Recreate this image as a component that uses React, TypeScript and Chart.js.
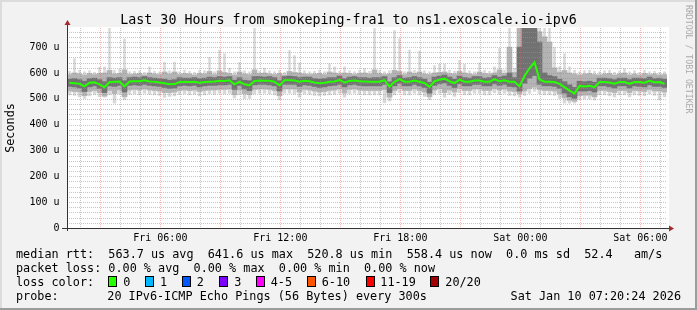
import { useEffect, useRef } from 'react';
import { Chart, registerables } from 'chart.js';

Chart.register(...registerables);

// ---- time axis ----
const STEP_HOURS = 0.25; // one sample every 15 min
const START_CLOCK = 1 + 20 / 60; // Fri 01:20
const RANGE_HOURS = 30;
const Y_MAX = 774; // micro-seconds

const xTickLabels = ['Fri 06:00', 'Fri 12:00', 'Fri 18:00', 'Sat 00:00', 'Sat 06:00'];
const yTickLabels = ['0', '100 u', '200 u', '300 u', '400 u', '500 u', '600 u', '700 u'];

// ---- median rtt (us) ----
const median = [
  562, 560, 558, 548, 562, 564, 556, 545, 565, 566,
  567, 548, 567, 568, 568, 572, 567, 566, 563, 560,
  556, 557, 565, 566, 565, 566, 562, 565, 566, 567,
  570, 569, 572, 556, 566, 556, 552, 569, 571, 570,
  570, 566, 552, 572, 572, 571, 566, 570, 568, 563,
  560, 562, 566, 567, 573, 563, 569, 571, 568, 567,
  566, 566, 566, 572, 547, 566, 576, 566, 566, 571,
  566, 561, 546, 568, 574, 578, 568, 561, 574, 566,
  566, 571, 571, 566, 566, 575, 568, 572, 566, 566,
  548, 588, 618, 641, 575, 566, 566, 565, 558, 545,
  532, 521, 550, 548, 550, 545, 565, 565, 563, 558,
  565, 565, 558, 565, 565, 562, 570, 564, 565, 558,
];

// ---- smoke: slowest / fastest ping ----
const pingMax = [
  608, 657, 612, 606, 610, 604, 623, 625, 774, 612,
  615, 733, 606, 608, 610, 604, 625, 608, 606, 643,
  610, 643, 606, 612, 608, 604, 612, 610, 662, 606,
  690, 676, 620, 606, 642, 610, 606, 774, 608, 620,
  610, 606, 612, 604, 688, 668, 640, 610, 606, 608,
  612, 606, 637, 625, 608, 625, 610, 606, 612, 618,
  608, 774, 612, 606, 610, 765, 734, 606, 690, 612,
  686, 610, 606, 630, 636, 636, 612, 608, 650, 635,
  610, 606, 640, 612, 608, 625, 696, 612, 774, 620,
  774, 774, 774, 774, 774, 774, 774, 700, 626, 676,
  625, 612, 606, 610, 612, 608, 606, 610, 612, 604,
  608, 618, 606, 610, 604, 612, 606, 608, 604, 606,
];
const pingMin = [
  514, 512, 506, 500, 510, 516, 507, 505, 514, 482,
  518, 495, 516, 518, 514, 520, 516, 514, 512, 504,
  508, 510, 516, 518, 514, 516, 510, 514, 518, 516,
  520, 518, 520, 502, 516, 499, 500, 518, 520, 520,
  518, 514, 495, 520, 520, 518, 505, 518, 516, 512,
  510, 512, 514, 516, 520, 505, 518, 520, 516, 514,
  514, 514, 514, 483, 490, 514, 522, 514, 514, 520,
  514, 508, 495, 516, 520, 505, 516, 508, 522, 514,
  514, 520, 520, 514, 514, 522, 516, 520, 512, 510,
  505, 512, 520, 528, 518, 514, 514, 512, 500, 482,
  482, 482, 495, 498, 498, 494, 514, 514, 510, 506,
  514, 514, 506, 514, 512, 510, 518, 512, 495, 506,
];

// ---- smoke: middle band ----
const midHigh = [
  594, 600, 596, 592, 598, 594, 598, 600, 610, 596,
  598, 612, 594, 596, 598, 592, 600, 596, 594, 604,
  596, 604, 594, 598, 596, 592, 598, 596, 606, 594,
  608, 602, 598, 592, 604, 596, 594, 612, 598, 600,
  596, 594, 598, 592, 606, 602, 600, 596, 594, 596,
  598, 594, 604, 600, 596, 600, 598, 594, 598, 600,
  596, 612, 598, 594, 596, 610, 606, 594, 604, 598,
  604, 596, 594, 600, 602, 604, 598, 596, 606, 600,
  596, 594, 604, 598, 596, 600, 612, 598, 700, 602,
  774, 774, 774, 774, 760, 740, 720, 620, 604, 610,
  600, 596, 592, 596, 598, 594, 592, 596, 598, 592,
  596, 600, 592, 596, 592, 598, 594, 596, 592, 594,
];
const midLow = [
  530, 528, 526, 512, 528, 532, 524, 510, 532, 520,
  534, 508, 534, 536, 534, 538, 534, 532, 530, 524,
  524, 526, 532, 534, 532, 534, 528, 532, 534, 534,
  536, 536, 538, 516, 534, 520, 516, 536, 538, 538,
  536, 532, 512, 538, 538, 538, 526, 536, 534, 530,
  526, 528, 532, 534, 538, 522, 536, 538, 534, 532,
  532, 532, 532, 536, 506, 532, 540, 532, 532, 538,
  532, 526, 508, 534, 540, 524, 534, 526, 540, 532,
  532, 538, 538, 532, 532, 540, 534, 538, 530, 528,
  520, 530, 540, 545, 536, 532, 532, 530, 520, 504,
  494, 490, 512, 514, 514, 508, 532, 532, 528, 524,
  532, 532, 524, 532, 530, 528, 536, 530, 530, 526,
];

// ---- smoke: dark core ----
const coreHigh = [
  576, 578, 574, 568, 578, 580, 574, 566, 582, 580,
  582, 570, 582, 584, 582, 586, 582, 580, 578, 576,
  572, 574, 582, 580, 580, 582, 578, 580, 584, 582,
  586, 584, 586, 572, 582, 572, 570, 586, 586, 584,
  586, 582, 570, 586, 588, 586, 582, 584, 584, 578,
  576, 578, 582, 582, 588, 578, 584, 586, 582, 582,
  580, 582, 582, 586, 566, 582, 590, 580, 582, 586,
  582, 576, 564, 584, 588, 592, 584, 576, 588, 582,
  580, 586, 586, 580, 582, 590, 584, 588, 600, 582,
  700, 774, 774, 774, 720, 600, 590, 586, 576, 566,
  554, 544, 568, 566, 568, 564, 580, 580, 578, 574,
  580, 580, 574, 580, 580, 578, 584, 578, 580, 576,
];
const coreLow = [
  548, 546, 542, 528, 546, 550, 540, 524, 550, 548,
  552, 526, 552, 554, 552, 556, 552, 550, 548, 544,
  540, 542, 550, 552, 550, 552, 546, 550, 552, 552,
  554, 554, 556, 536, 552, 538, 532, 554, 556, 556,
  554, 550, 530, 556, 556, 556, 548, 554, 552, 548,
  544, 546, 550, 552, 556, 546, 554, 556, 552, 550,
  550, 550, 550, 556, 524, 550, 560, 550, 550, 556,
  550, 544, 522, 552, 558, 562, 552, 544, 558, 550,
  550, 556, 556, 550, 550, 558, 552, 556, 548, 546,
  530, 560, 580, 590, 556, 550, 550, 548, 540, 522,
  508, 502, 530, 530, 532, 526, 550, 550, 546, 542,
  550, 550, 542, 550, 548, 546, 554, 548, 548, 544,
];

// ---- texts ----
const TITLE = 'Last 30 Hours from smokeping-fra1 to ns1.exoscale.io-ipv6';
const Y_TITLE = 'Seconds';
const WATERMARK = 'RRDTOOL / TOBI OETIKER';
const LEGEND_RTT = 'median rtt:  563.7 us avg  641.6 us max  520.8 us min  558.4 us now  0.0 ms sd  52.4   am/s';
const LEGEND_LOSS = 'packet loss: 0.00 % avg  0.00 % max  0.00 % min  0.00 % now';
const LEGEND_COLOR = 'loss color:';
const lossLabels = ['0', '1', '2', '3', '4-5', '6-10', '11-19', '20/20'];
const lossColors = ['#26ff00', '#00b8ff', '#0059ff', '#7e00ff', '#ff00ff', '#ff5500', '#ff0000', '#a10000'];
const lossBoxX = [108.5, 145.5, 182.5, 219.5, 256.5, 307.5, 366.5, 430.5];
const lossLabelX = [123.3, 160, 196.7, 234.3, 270.7, 321.7, 380.3, 445.3];
const PROBE_LABEL = 'probe:';
const PROBE_TEXT = '20 IPv6-ICMP Echo Pings (56 Bytes) every 300s';
const DATE_TEXT = 'Sat Jan 10 07:20:24 2026';

const MONO = "'DejaVu Sans Mono', monospace";
const MAJOR_GRID = 'rgba(230, 90, 90, 0.45)';
const MINOR_GRID = 'rgba(150, 150, 150, 0.55)';

export default function App() {
  const ref = useRef<HTMLCanvasElement>(null);

  useEffect(() => {
    const canvas = ref.current;
    if (!canvas) return;

    const xOf = (i: number) => (i + 0.5) * STEP_HOURS;
    const band = (lo: number[], hi: number[]) => lo.map((v, i) => ({ x: xOf(i), y: [v, hi[i]] }));

    const gridHours: number[] = [];
    for (let h = Math.ceil(START_CLOCK); h < START_CLOCK + RANGE_HOURS; h++) gridHours.push(h - START_CLOCK);

    const drawGrid = (chart: any) => {
      const { ctx, chartArea: a, scales } = chart;
      const xs = scales.x;
      const ys = scales.y;
      ctx.save();
      ctx.beginPath();
      ctx.rect(a.left, a.top, a.right - a.left, a.bottom - a.top);
      ctx.clip();
      ctx.lineWidth = 1;
      ctx.setLineDash([1, 1]);
      ys.ticks.forEach((t: any) => {
        const v = Math.round(t.value);
        if (v === 0) return;
        const py = Math.round(ys.getPixelForValue(t.value)) + 0.5;
        ctx.strokeStyle = v % 100 === 0 ? MAJOR_GRID : MINOR_GRID;
        ctx.beginPath();
        ctx.moveTo(a.left, py);
        ctx.lineTo(a.right, py);
        ctx.stroke();
      });
      xs.ticks.forEach((t: any) => {
        const clock = Math.round(t.value + START_CLOCK);
        const px = Math.round(xs.getPixelForValue(t.value)) + 0.5;
        ctx.strokeStyle = clock % 3 === 0 ? MAJOR_GRID : MINOR_GRID;
        ctx.beginPath();
        ctx.moveTo(px, a.top);
        ctx.lineTo(px, a.bottom);
        ctx.stroke();
      });
      ctx.restore();
    };

    const decor = {
      id: 'rrdDecor',
      beforeDraw(chart: any) {
        const { ctx, chartArea: a } = chart;
        ctx.save();
        ctx.fillStyle = '#f2f2f2';
        ctx.fillRect(0, 0, 697, 310);
        ctx.fillStyle = '#ffffff';
        ctx.fillRect(a.left, a.top - 1, a.right - a.left + 2, a.bottom - a.top + 1);
        ctx.restore();
      },
      afterDatasetDraw(chart: any, args: any) {
        // grid goes over the smoke, under the median line
        if (args.index === 1) drawGrid(chart);
      },
      afterDraw(chart: any) {
        const { ctx, chartArea: a } = chart;
        ctx.save();
        // axes
        ctx.strokeStyle = '#333333';
        ctx.lineWidth = 1;
        ctx.beginPath();
        ctx.moveTo(a.left - 5, Math.round(a.bottom) + 0.5);
        ctx.lineTo(a.right + 3, Math.round(a.bottom) + 0.5);
        ctx.moveTo(Math.round(a.left) + 0.5, a.bottom + 3);
        ctx.lineTo(Math.round(a.left) + 0.5, a.top - 4);
        ctx.stroke();
        // arrows
        ctx.fillStyle = '#a52a2a';
        const ax = Math.round(a.left) + 0.5;
        ctx.beginPath();
        ctx.moveTo(ax - 3, a.top - 3);
        ctx.lineTo(ax + 3, a.top - 3);
        ctx.lineTo(ax, a.top - 8);
        ctx.closePath();
        ctx.fill();
        const ay = Math.round(a.bottom) + 0.5;
        ctx.beginPath();
        ctx.moveTo(a.right + 2, ay - 3);
        ctx.lineTo(a.right + 2, ay + 3);
        ctx.lineTo(a.right + 7, ay);
        ctx.closePath();
        ctx.fill();

        // title
        ctx.fillStyle = '#000';
        ctx.font = `13.3px ${MONO}`;
        ctx.textAlign = 'center';
        ctx.textBaseline = 'alphabetic';
        ctx.fillText(TITLE, 348.5, 24);

        // y title
        ctx.save();
        ctx.font = `11.8px ${MONO}`;
        ctx.translate(11, 128);
        ctx.rotate(-Math.PI / 2);
        ctx.textAlign = 'center';
        ctx.textBaseline = 'middle';
        ctx.fillText(Y_TITLE, 0, 0);
        ctx.restore();

        // watermark
        ctx.save();
        ctx.font = `8.2px ${MONO}`;
        ctx.fillStyle = '#aaaaaa';
        ctx.translate(688, 5);
        ctx.rotate(Math.PI / 2);
        ctx.textAlign = 'left';
        ctx.textBaseline = 'middle';
        ctx.fillText(WATERMARK, 0, 0);
        ctx.restore();

        // legend
        ctx.font = `11.8px ${MONO}`;
        ctx.textAlign = 'left';
        ctx.textBaseline = 'alphabetic';
        ctx.fillStyle = '#000';
        ctx.fillText(LEGEND_RTT, 16, 257.7);
        ctx.fillText(LEGEND_LOSS, 16, 271.8);
        ctx.fillText(LEGEND_COLOR, 16, 285.9);
        lossLabels.forEach((lab, i) => {
          ctx.fillStyle = lossColors[i];
          ctx.fillRect(lossBoxX[i], 276.5, 8, 10);
          ctx.strokeStyle = '#000';
          ctx.lineWidth = 1;
          ctx.strokeRect(lossBoxX[i], 276.5, 8, 10);
          ctx.fillStyle = '#000';
          ctx.fillText(lab, lossLabelX[i], 285.9);
        });
        ctx.fillText(PROBE_LABEL, 16, 300);
        ctx.fillText(PROBE_TEXT, 107.3, 300);
        ctx.textAlign = 'right';
        ctx.fillText(DATE_TEXT, 681, 300);

        // 3D frame
        ctx.fillStyle = '#dcdcdc';
        ctx.fillRect(0, 0, 697, 2);
        ctx.fillRect(0, 0, 2, 310);
        ctx.fillStyle = '#9c9c9c';
        ctx.fillRect(0, 308, 697, 2);
        ctx.fillRect(695, 0, 2, 310);
        ctx.restore();
      },
    };

    const smoke = (data: any[], color: string, order: number, width: number) =>
      ({
        data,
        backgroundColor: color,
        borderWidth: 0,
        grouped: false,
        barPercentage: width,
        categoryPercentage: 1,
        order,
      }) as any;

    const chart = new Chart(canvas, {
      type: 'bar',
      data: {
        datasets: [
          {
            type: 'line',
            data: median.map((v, i) => ({ x: xOf(i), y: v })),
            borderColor: '#26ff00',
            borderWidth: 2,
            pointRadius: 0,
            tension: 0,
            order: 0,
          } as any,
          smoke(band(coreLow, coreHigh), '#727272', 1, 1),
          smoke(band(midLow, midHigh), '#b4b4b4', 2, 1),
          smoke(band(midHigh, pingMax), '#d8d8d8', 3, 0.5),
          smoke(band(pingMin, midLow), '#d8d8d8', 4, 0.7),
        ],
      },
      options: {
        animation: false,
        responsive: false,
        devicePixelRatio: 1,
        layout: { padding: { top: 28, right: 30, left: 0, bottom: 0 } },
        plugins: { legend: { display: false }, tooltip: { enabled: false }, title: { display: false } },
        scales: {
          x: {
            type: 'linear',
            min: 0,
            max: RANGE_HOURS,
            offset: false,
            afterBuildTicks: (scale: any) => {
              scale.ticks = gridHours.map((v) => ({ value: v }));
            },
            afterFit: (scale: any) => {
              scale.height = 82;
            },
            grid: { display: false, drawTicks: false },
            border: { display: false },
            ticks: {
              autoSkip: false,
              maxRotation: 0,
              padding: 4,
              color: '#000',
              font: { family: MONO, size: 10 },
              callback: (value: any) => {
                const clock = Math.round(Number(value) + START_CLOCK);
                return clock % 6 === 0 ? xTickLabels[clock / 6 - 1] : '';
              },
            },
          },
          y: {
            type: 'linear',
            min: 0,
            max: Y_MAX,
            afterFit: (scale: any) => {
              scale.width = 67;
            },
            grid: { display: false, drawTicks: false },
            border: { display: false },
            ticks: {
              stepSize: 20,
              includeBounds: false,
              autoSkip: false,
              padding: 7.5,
              color: '#000',
              font: { family: MONO, size: 10 },
              callback: (value: any) => {
                const v = Math.round(Number(value));
                return v % 100 === 0 ? yTickLabels[v / 100] : '';
              },
            },
          },
        },
      },
      plugins: [decor],
    } as any);

    return () => chart.destroy();
  }, []);

  return (
    <div style={{ position: 'fixed', left: 0, top: 0, width: 697, height: 310 }}>
      <canvas ref={ref} width={697} height={310} style={{ display: 'block' }} />
    </div>
  );
}
